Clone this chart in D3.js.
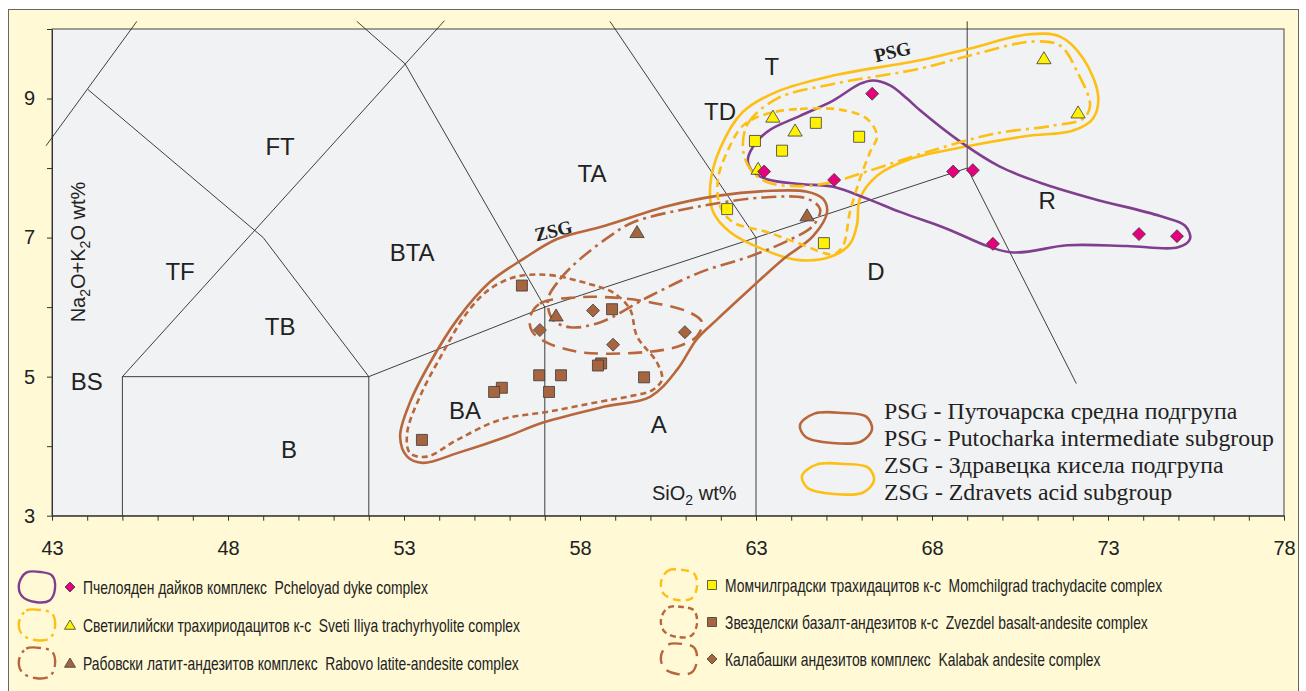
<!DOCTYPE html>
<html>
<head>
<meta charset="utf-8">
<script src="https://cdn.jsdelivr.net/npm/d3@7"></script>
<style>
  body { margin: 0; background: #fff; }
  svg { display: block; }
</style>
</head>
<body>
<svg id="chart" width="1306" height="691"></svg>
<script>
// TAS диаграмма — данные (SiO2 wt%, Na2O+K2O wt%)

// точки по комплексам
const pcheloyad = [[66.30,9.07],[63.23,7.95],[65.22,7.83],[68.60,7.95],[69.16,7.97],[69.73,6.91],[73.88,7.05],[74.96,7.02]];
const svetiIliya = [[63.48,8.74],[64.11,8.54],[63.06,7.99],[71.18,9.58],[72.15,8.80]];
const momchilgrad = [[64.70,8.65],[62.97,8.39],[63.74,8.25],[65.93,8.45],[62.18,7.41],[64.93,6.92]];
const rabovo = [[59.62,7.08],[64.45,7.32],[57.32,5.88]];
const zvezdel = [[56.35,6.31],[58.91,5.97],[56.84,5.02],[57.46,5.02],[55.78,4.84],[55.56,4.78],[57.12,4.78],[58.60,5.19],[58.51,5.16],[59.82,4.99],[53.51,4.09]];
const kalabak = [[58.37,5.95],[56.86,5.67],[58.94,5.46],[60.98,5.64]];

// контуры полей
const envPcheloyad = [[62.77,8.09],[62.83,8.23],[63.31,8.52],[64.25,8.75],[65.19,8.97],[65.95,9.21],[66.32,9.26],[66.81,9.19],[67.29,9.00],[67.66,8.83],[68.80,8.38],[69.93,8.02],[71.07,7.79],[72.57,7.56],[74.48,7.31],[75.19,7.17],[75.33,6.98],[74.99,6.86],[73.54,6.88],[71.84,6.89],[70.22,6.79],[68.31,7.15],[67.09,7.37],[66.15,7.56],[65.19,7.73],[64.25,7.77],[63.31,7.84],[62.91,7.95]];
const envZSG = [[61.70,7.75],[61.98,8.28],[62.63,8.81],[63.60,9.10],[65.19,9.33],[67.66,9.55],[69.08,9.72],[70.70,9.92],[71.64,9.89],[72.29,9.58],[72.72,9.04],[72.57,8.71],[72.01,8.54],[70.70,8.46],[69.08,8.32],[67.38,8.13],[66.44,7.89],[65.95,7.56],[65.87,7.19],[65.67,6.91],[65.10,6.72],[64.16,6.68],[63.20,6.83],[62.26,7.08],[61.78,7.37]];
const envSvetiIliya = [[62.63,8.28],[62.77,8.64],[63.60,9.00],[65.19,9.21],[67.66,9.43],[69.08,9.62],[70.87,9.82],[71.64,9.76],[72.12,9.39],[72.49,8.90],[72.29,8.71],[71.44,8.61],[69.73,8.49],[67.86,8.23],[66.15,7.95],[65.19,7.80],[64.25,7.74],[63.31,7.80],[62.83,7.99]];
const envMomchilgrad = [[63.31,8.78],[64.25,8.85],[65.39,8.84],[66.15,8.71],[66.44,8.46],[66.24,8.23],[65.95,7.84],[65.67,7.37],[65.47,6.88],[65.19,6.76],[64.25,6.91],[63.31,7.08],[62.35,7.22],[61.98,7.45],[61.92,7.84],[62.18,8.23],[62.63,8.61]];
const envPSG = [[52.89,4.14],[53.17,4.63],[53.74,5.20],[54.51,5.82],[55.44,6.36],[56.38,6.69],[57.35,6.98],[58.71,7.17],[60.47,7.45],[61.89,7.60],[63.31,7.67],[64.45,7.66],[64.90,7.56],[65.02,7.37],[64.62,7.02],[63.77,6.69],[62.83,6.26],[61.89,5.82],[61.32,5.54],[60.76,5.10],[59.99,4.71],[58.71,4.57],[56.95,4.34],[55.93,4.14],[54.51,3.90],[53.54,3.76],[53.09,3.85]];
const envRabovo = [[57.09,6.11],[57.43,6.40],[58.00,6.69],[58.85,7.02],[59.51,7.22],[61.41,7.45],[63.31,7.58],[64.45,7.56],[64.82,7.41],[64.62,7.17],[63.88,6.95],[62.83,6.73],[61.41,6.50],[59.99,6.16],[58.57,5.78],[57.72,5.71],[57.23,5.82]];
const envZvezdel = [[56.21,6.44],[57.15,6.46],[58.28,6.33],[58.94,6.21],[59.42,5.97],[59.62,5.58],[60.19,5.20],[60.33,4.96],[60.07,4.81],[59.34,4.71],[58.57,4.64],[57.15,4.50],[55.73,4.38],[54.51,4.09],[53.65,3.85],[53.17,3.90],[53.09,4.19],[53.45,4.71],[54.11,5.35],[54.79,5.92],[55.44,6.26]];
const envKalabak = [[56.58,5.85],[56.86,6.05],[57.91,6.14],[58.85,6.14],[59.99,6.07],[61.13,5.92],[61.47,5.78],[61.32,5.58],[60.76,5.43],[59.99,5.36],[58.77,5.33],[57.91,5.36],[57.06,5.49],[56.64,5.65]];

// границы классификационных полей
const tasLines = [
  [[42.83,8.32],[45.41,10.11]],
  [[44.02,9.13],[49.0,7.0],[52,5]],
  [[45,3],[45,5],[52,5],[52,3]],
  [[45,5],[54.15,10.12]],
  [[51.66,10.11],[53.03,9.5],[57,6]],
  [[52,5],[57,6],[63,7],[69,8]],
  [[57,3],[57,6]],
  [[63,3],[63,7]],
  [[63,7],[58.85,10.11]],
  [[69,8],[69,10.11]],
  [[69,8],[72.1,4.9]]
];

// подписи полей
const fieldNames = ["FT","TF","TB","BTA","BS","B","BA","A","TA","TD","T","D","R"];
const fieldPos = [[49.48,8.31],[46.64,6.52],[49.48,5.73],[53.23,6.79],[43.99,4.93],[49.73,3.96],[54.73,4.51],[60.24,4.31],[58.34,7.93],[61.98,8.81],[63.45,9.46],[66.41,6.52],[71.27,7.53]];

const xTicks = d3.range(43, 79, 1);
const yTicks = d3.range(3, 11, 1);

const legendRu = ["Пчелояден дайков комплекс","Светиилийски трахириодацитов к-с","Рабовски латит-андезитов комплекс","Момчилградски трахидацитов к-с","Звезделски базалт-андезитов к-с","Калабашки андезитов комплекс"];
const legendEn = ["Pcheloyad dyke complex","Sveti Iliya trachyrhyolite complex","Rabovo latite-andesite complex","Momchilgrad trachydacite complex","Zvezdel basalt-andesite complex","Kalabak andesite complex"];
const groupText = ["PSG - Путочарска средна подгрупа","PSG - Putocharka intermediate subgroup","ZSG - Здравецка кисела подгрупа","ZSG - Zdravets acid subgroup"];

// ------------------------------------------------------------

const C = {
  purple: "#803f8e",
  yellow: "#fdbf12",
  brown: "#b8673c",
  pink: "#e5007e",
  yFill: "#fff200",
  bFill: "#a7653f"
};

const series = [
  { pts: pcheloyad, env: envPcheloyad, shape: "diamond", fill: C.pink, line: C.purple, dash: null },
  { pts: svetiIliya, env: envSvetiIliya, shape: "triangle", fill: C.yFill, line: C.yellow, dash: "15,5,3,5" },
  { pts: rabovo, env: envRabovo, shape: "triangle", fill: C.bFill, line: C.brown, dash: "15,5,3,5" },
  { pts: momchilgrad, env: envMomchilgrad, shape: "square", fill: C.yFill, line: C.yellow, dash: "8,5" },
  { pts: zvezdel, env: envZvezdel, shape: "square", fill: C.bFill, line: C.brown, dash: "6,4" },
  { pts: kalabak, env: envKalabak, shape: "diamond", fill: C.bFill, line: C.brown, dash: "14,8" }
];

const area = { left: 52, right: 1284, top: 29, bottom: 515.7 };

const svg = d3.select("#chart");
const sans = "'Liberation Sans', Arial, sans-serif";
const serif = "'Liberation Serif', 'Times New Roman', serif";

// рамка
svg.append("rect").attr("x", 8.5).attr("y", 9.5).attr("width", 1290).attr("height", 690)
  .attr("fill", "#fff9d6").attr("stroke", "#666").attr("stroke-width", 1);

const x = d3.scaleLinear().domain([43, 78]).range([area.left, area.right]);
const y = d3.scaleLinear().domain([3, 10]).range([area.bottom, area.top]);

svg.append("rect").attr("x", area.left).attr("y", area.top)
  .attr("width", area.right - area.left).attr("height", area.bottom - area.top)
  .attr("fill", "#f1f2f4").attr("stroke", "#444").attr("stroke-width", 1);

// оси
const gx = svg.append("g").attr("transform", `translate(0,${area.bottom})`)
  .call(d3.axisBottom(x).tickValues(xTicks).tickSize(5).tickSizeOuter(0).tickPadding(20)
    .tickFormat(d => (d - 43) % 5 === 0 ? d : ""));
const gy = svg.append("g").attr("transform", `translate(${area.left},0)`)
  .call(d3.axisLeft(y).tickValues(yTicks).tickSize(5).tickSizeOuter(0).tickPadding(12)
    .tickFormat(d => d % 2 === 1 ? d : ""));
[gx, gy].forEach(g => {
  g.selectAll("path, line").attr("stroke", "#333");
  g.selectAll("text").attr("font-family", sans).attr("font-size", 20).attr("fill", "#222");
});

// линии полей TAS
const line = d3.line().x(d => x(d[0])).y(d => y(d[1]));
svg.append("g").selectAll("path").data(tasLines).enter().append("path")
  .attr("d", line).attr("fill", "none").attr("stroke", "#2a2a2a").attr("stroke-width", 0.9);

svg.append("g").selectAll("text").data(fieldNames).enter().append("text")
  .attr("x", (d, i) => x(fieldPos[i][0])).attr("y", (d, i) => y(fieldPos[i][1]))
  .attr("dy", "0.36em").attr("text-anchor", "middle")
  .attr("font-family", sans).attr("font-size", 24).attr("fill", "#222").text(d => d);

// контуры
const loop = d3.line().x(d => x(d[0])).y(d => y(d[1])).curve(d3.curveCatmullRomClosed.alpha(0.5));
const outer = [
  { env: envZSG, color: C.yellow },
  { env: envPSG, color: C.brown }
];
const gEnv = svg.append("g").attr("fill", "none").attr("stroke-width", 2.6);
outer.forEach(o => gEnv.append("path").attr("d", loop(o.env)).attr("stroke", o.color));
series.forEach(s => {
  gEnv.append("path").attr("d", loop(s.env)).attr("stroke", s.line)
    .attr("stroke-dasharray", s.dash);
});

// маркеры
function marker(shape, s) {
  if (shape === "diamond") return `M0,${-s}L${s},0L0,${s}L${-s},0Z`;
  if (shape === "triangle") return `M0,${-s}L${s * 1.1},${s * 0.85}L${-s * 1.1},${s * 0.85}Z`;
  return `M${-s},${-s}h${2 * s}v${2 * s}h${-2 * s}Z`;
}
const msize = { diamond: 6.5, triangle: 6.5, square: 5.5 };
const gPts = svg.append("g");
[4, 1, 3, 2, 5, 0].forEach(i => {
  const s = series[i];
  gPts.selectAll(null).data(s.pts).enter().append("path")
    .attr("transform", d => `translate(${x(d[0])},${y(d[1])})`)
    .attr("d", marker(s.shape, msize[s.shape]))
    .attr("fill", s.fill).attr("stroke", "#3a3a3a").attr("stroke-width", 0.8);
});

// подписи осей
const yt = svg.append("text").attr("transform", "translate(85,252) rotate(-90)")
  .attr("text-anchor", "middle").attr("font-family", sans).attr("font-size", 20).attr("fill", "#222");
yt.append("tspan").text("Na");
yt.append("tspan").attr("font-size", 14).attr("dy", 5).text("2");
yt.append("tspan").attr("dy", -5).text("O+K");
yt.append("tspan").attr("font-size", 14).attr("dy", 5).text("2");
yt.append("tspan").attr("dy", -5).text("O wt%");

const xt = svg.append("text").attr("x", 652).attr("y", 500)
  .attr("font-family", sans).attr("font-size", 20).attr("fill", "#222");
xt.append("tspan").text("SiO");
xt.append("tspan").attr("font-size", 14).attr("dy", 5).text("2");
xt.append("tspan").attr("dy", -5).text(" wt%");

// PSG / ZSG
svg.append("text").attr("transform", "translate(894,58) rotate(-13)").attr("text-anchor", "middle")
  .attr("font-family", serif).attr("font-weight", "bold").attr("font-size", 19).attr("fill", "#222").text("PSG");
svg.append("text").attr("transform", "translate(555,237) rotate(-14)").attr("text-anchor", "middle")
  .attr("font-family", serif).attr("font-weight", "bold").attr("font-size", 19).attr("fill", "#222").text("ZSG");

// легенда внутри графика
const blob = d3.line().curve(d3.curveCatmullRomClosed.alpha(0.5));
function blobPts(cx, cy, w, h) {
  const rel = [[-0.5,-0.1],[-0.3,-0.48],[0.1,-0.5],[0.42,-0.38],[0.5,0.05],[0.35,0.45],[-0.05,0.5],[-0.42,0.3]];
  return rel.map(p => [cx + p[0] * w, cy + p[1] * h]);
}
[[836, 428, C.brown], [838, 479, C.yellow]].forEach(b => {
  svg.append("path").attr("d", blob(blobPts(b[0], b[1], 72, 30)))
    .attr("fill", "none").attr("stroke", b[2]).attr("stroke-width", 2.6);
});
svg.append("g").selectAll("text").data(groupText).enter().append("text")
  .attr("x", 884).attr("y", (d, i) => 419 + i * 27)
  .attr("font-family", serif).attr("font-size", 23.8).attr("fill", "#222").text(d => d);

// нижняя легенда (узкий шрифт — сжатие по горизонтали)
const legPos = [[37, 587], [37, 625], [37, 663], [679, 585], [679, 622], [679, 659]];
series.forEach((s, i) => {
  const [cx, cy] = legPos[i];
  svg.append("path").attr("d", blob(blobPts(cx, cy, 36, 30)))
    .attr("fill", "none").attr("stroke", s.line).attr("stroke-width", 2.4)
    .attr("stroke-dasharray", s.dash);
  svg.append("path").attr("transform", `translate(${cx + 33},${cy})`)
    .attr("d", marker(s.shape, s.shape === "square" ? 4.5 : 5))
    .attr("fill", s.fill).attr("stroke", "#3a3a3a").attr("stroke-width", 0.8);
  svg.append("text").attr("transform", `translate(${cx + 46},${cy}) scale(0.75,1)`)
    .attr("dy", "0.36em")
    .attr("font-family", sans).attr("font-size", 18.5).attr("fill", "#222")
    .text(legendRu[i] + "\u00a0 " + legendEn[i]);
});
</script>
</body>
</html>
